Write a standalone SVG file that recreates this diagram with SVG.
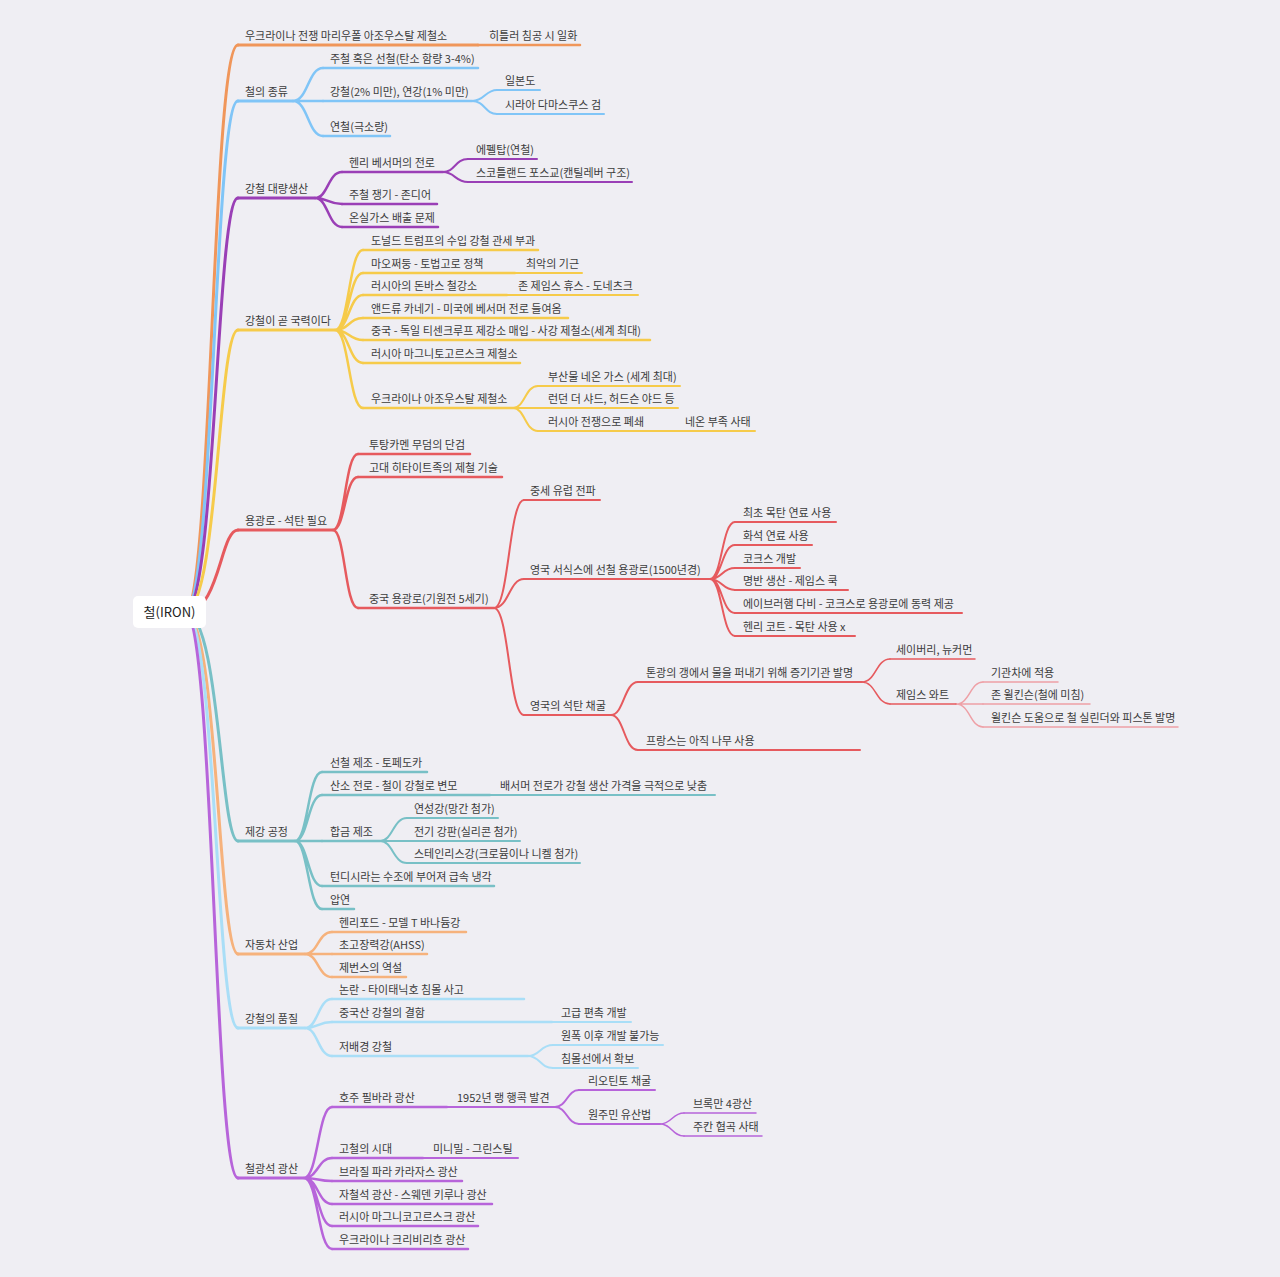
<svg xmlns="http://www.w3.org/2000/svg" width="1280" height="1277" viewBox="0 0 1280 1277">
<style>
text{font-family:"Noto Sans CJK KR","Noto Sans",sans-serif;font-size:11px;fill:#3c3c3c}
path,line{fill:none;stroke-linecap:round}
.o{stroke:#F0965A}.b{stroke:#80C5F7}.p{stroke:#9A3FB6}.y{stroke:#F6CB4A}.r{stroke:#E65A5E}.rl{stroke:#EEA0A6}.t{stroke:#78C0C6}.a{stroke:#F6B27C}.lb{stroke:#A9DEF7}.v{stroke:#B764DA}
.w1{stroke-width:3}.w2{stroke-width:2.5}.w3{stroke-width:2}.w4{stroke-width:1.5}
</style>
<rect width="1280" height="1277" fill="#EFEEF3"/>
<g id="connectors">
<path class="o w1" d="M185 612 C212 612 212 45 238 45"/>
<path class="b w1" d="M185 612 C214 612 214 101 238 101"/>
<path class="p w1" d="M185 612 C216 612 216 198 238 198"/>
<path class="y w1" d="M185 612 C218 612 218 330 238 330"/>
<path class="r w1" d="M185 612 C220 612 220 530 238 530"/>
<path class="t w1" d="M185 612 C220 612 220 841 238 841"/>
<path class="a w1" d="M185 612 C218 612 218 954 238 954"/>
<path class="lb w1" d="M185 612 C216 612 216 1028 238 1028"/>
<path class="v w1" d="M185 612 C214 612 214 1178 238 1178"/>
<path class="b w2" d="M293 101 C308 101 308 68 323 68 M293 101 L323 101 M293 101 C308 101 308 136 323 136"/>
<path class="b w3" d="M472 101 C485 101 485 90 497 90 M472 101 C485 101 485 114 497 114"/>
<path class="p w2" d="M315 198 C328 198 328 172 342 172 M315 198 C328 198 328 204 342 204 M315 198 C328 198 328 227 342 227"/>
<path class="p w3" d="M443 172 C455 172 455 159 468 159 M443 172 C455 172 455 182 468 182"/>
<path class="y w2" d="M335 330 C349 330 349 250 363 250 M335 330 C349 330 349 273 363 273 M335 330 C349 330 349 295 363 295 M335 330 C349 330 349 318 363 318 M335 330 C349 330 349 340 363 340 M335 330 C349 330 349 363 363 363 M335 330 C349 330 349 408 363 408"/>
<path class="y w3" d="M513 408 C525 408 525 386 538 386 M513 408 L538 408 M513 408 C525 408 525 431 538 431"/>
<path class="r w2" d="M333 530 C345 530 345 454 358 454 M333 530 C345 530 345 477 358 477 M333 530 C345 530 345 608 358 608"/>
<path class="r w3" d="M494 608 C509 608 509 500 524 500 M494 608 C509 608 509 579 524 579 M494 608 C509 608 509 715 524 715"/>
<path class="r w3" d="M710 579 C722 579 722 522 735 522 M710 579 C722 579 722 545 735 545 M710 579 C722 579 722 568 735 568 M710 579 C722 579 722 590 735 590 M710 579 C722 579 722 613 735 613 M710 579 C722 579 722 636 735 636"/>
<path class="r w3" d="M611 715 C624 715 624 682 638 682 M611 715 C624 715 624 750 638 750"/>
<path class="r w4" d="M862 682 C876 682 876 659 890 659 M862 682 C876 682 876 704 890 704"/>
<path class="rl w4" d="M956 704 C970 704 970 682 983 682 M956 704 L983 704 M956 704 C970 704 970 727 983 727"/>
<path class="t w2" d="M295 841 C308 841 308 772 322 772 M295 841 C308 841 308 795 322 795 M295 841 L322 841 M295 841 C308 841 308 886 322 886 M295 841 C308 841 308 909 322 909"/>
<path class="t w3" d="M380 841 C393 841 393 818 407 818 M380 841 L407 841 M380 841 C393 841 393 863 407 863"/>
<path class="a w2" d="M305 954 C318 954 318 932 332 932 M305 954 L332 954 M305 954 C318 954 318 977 332 977"/>
<path class="lb w2" d="M305 1028 C318 1028 318 999 332 999 M305 1028 C318 1028 318 1022 332 1022 M305 1028 C318 1028 318 1056 332 1056"/>
<path class="lb w3" d="M528 1056 C540 1056 540 1045 553 1045 M528 1056 C540 1056 540 1068 553 1068"/>
<path class="v w2" d="M304 1178 C318 1178 318 1107 332 1107 M304 1178 C318 1178 318 1158 332 1158 M304 1178 C318 1178 318 1181 332 1181 M304 1178 C318 1178 318 1204 332 1204 M304 1178 C318 1178 318 1226 332 1226 M304 1178 C318 1178 318 1249 332 1249"/>
<path class="v w3" d="M555 1107 C567 1107 567 1090 579 1090 M555 1107 C567 1107 567 1124 579 1124"/>
<path class="v w4" d="M660 1124 C672 1124 672 1113 684 1113 M660 1124 C672 1124 672 1136 684 1136"/>
</g>
<g id="root"><rect x="133" y="596" width="73" height="32" rx="5" fill="#fff"/><text x="169.5" y="617" text-anchor="middle" style="font-size:13px;fill:#222">철(IRON)</text></g>
<g id="n1"><line class="o w1" x1="238" y1="45" x2="478" y2="45"/><text x="245" y="40">우크라이나 전쟁 마리우폴 아조우스탈 제철소</text></g>
<g id="n1a"><line class="o w2" x1="478" y1="45" x2="580" y2="45"/><text x="489" y="40">히틀러 침공 시 일화</text></g>
<g id="n2"><line class="b w1" x1="238" y1="101" x2="293" y2="101"/><text x="245" y="96">철의 종류</text></g>
<g id="n2a"><line class="b w2" x1="323" y1="68" x2="478" y2="68"/><text x="330" y="63">주철 혹은 선철(탄소 함량 3-4%)</text></g>
<g id="n2b"><line class="b w2" x1="323" y1="101" x2="472" y2="101"/><text x="330" y="96">강철(2% 미만), 연강(1% 미만)</text></g>
<g id="n2b1"><line class="b w3" x1="497" y1="90" x2="540" y2="90"/><text x="505" y="85">일본도</text></g>
<g id="n2b2"><line class="b w3" x1="497" y1="114" x2="604" y2="114"/><text x="505" y="109">시라아 다마스쿠스 검</text></g>
<g id="n2c"><line class="b w2" x1="323" y1="136" x2="390" y2="136"/><text x="330" y="131">연철(극소량)</text></g>
<g id="n3"><line class="p w1" x1="238" y1="198" x2="315" y2="198"/><text x="245" y="193">강철 대량생산</text></g>
<g id="n3a"><line class="p w2" x1="342" y1="172" x2="443" y2="172"/><text x="349" y="167">헨리 베서머의 전로</text></g>
<g id="n3a1"><line class="p w3" x1="468" y1="159" x2="537" y2="159"/><text x="476" y="154">에펠탑(연철)</text></g>
<g id="n3a2"><line class="p w3" x1="468" y1="182" x2="632" y2="182"/><text x="476" y="177">스코틀랜드 포스교(캔틸레버 구조)</text></g>
<g id="n3b"><line class="p w2" x1="342" y1="204" x2="437" y2="204"/><text x="349" y="199">주철 쟁기 - 존디어</text></g>
<g id="n3c"><line class="p w2" x1="342" y1="227" x2="438" y2="227"/><text x="349" y="222">온실가스 배출 문제</text></g>
<g id="n4"><line class="y w1" x1="238" y1="330" x2="335" y2="330"/><text x="245" y="325">강철이 곧 국력이다</text></g>
<g id="n4a"><line class="y w2" x1="363" y1="250" x2="538" y2="250"/><text x="371" y="245">도널드 트럼프의 수입 강철 관세 부과</text></g>
<g id="n4b"><line class="y w2" x1="363" y1="273" x2="515" y2="273"/><text x="371" y="268">마오쩌둥 - 토법고로 정책</text></g>
<g id="n4b1"><line class="y w3" x1="515" y1="273" x2="582" y2="273"/><text x="526" y="268">최악의 기근</text></g>
<g id="n4c"><line class="y w2" x1="363" y1="295" x2="507" y2="295"/><text x="371" y="290">러시아의 돈바스 철강소</text></g>
<g id="n4c1"><line class="y w3" x1="507" y1="295" x2="638" y2="295"/><text x="518" y="290">존 제임스 휴스 - 도네츠크</text></g>
<g id="n4d"><line class="y w2" x1="363" y1="318" x2="568" y2="318"/><text x="371" y="313">앤드류 카네기 - 미국에 베서머 전로 들여옴</text></g>
<g id="n4e"><line class="y w2" x1="363" y1="340" x2="650" y2="340"/><text x="371" y="335">중국 - 독일 티센크루프 제강소 매입 - 사강 제철소(세계 최대)</text></g>
<g id="n4f"><line class="y w2" x1="363" y1="363" x2="520" y2="363"/><text x="371" y="358">러시아 마그니토고르스크 제철소</text></g>
<g id="n4g"><line class="y w2" x1="363" y1="408" x2="513" y2="408"/><text x="371" y="403">우크라이나 아조우스탈 제철소</text></g>
<g id="n4g1"><line class="y w3" x1="538" y1="386" x2="680" y2="386"/><text x="548" y="381">부산물 네온 가스 (세계 최대)</text></g>
<g id="n4g2"><line class="y w3" x1="538" y1="408" x2="678" y2="408"/><text x="548" y="403">런던 더 샤드, 허드슨 야드 등</text></g>
<g id="n4g3"><line class="y w3" x1="538" y1="431" x2="675" y2="431"/><text x="548" y="426">러시아 전쟁으로 폐쇄</text></g>
<g id="n4g3a"><line class="y w3" x1="675" y1="431" x2="755" y2="431"/><text x="685" y="426">네온 부족 사태</text></g>
<g id="n5"><line class="r w1" x1="238" y1="530" x2="333" y2="530"/><text x="245" y="525">용광로 - 석탄 필요</text></g>
<g id="n5a"><line class="r w2" x1="358" y1="454" x2="470" y2="454"/><text x="369" y="449">투탕카멘 무덤의 단검</text></g>
<g id="n5b"><line class="r w2" x1="358" y1="477" x2="502" y2="477"/><text x="369" y="472">고대 히타이트족의 제철 기술</text></g>
<g id="n5c"><line class="r w2" x1="358" y1="608" x2="494" y2="608"/><text x="369" y="603">중국 용광로(기원전 5세기)</text></g>
<g id="n5c1"><line class="r w3" x1="524" y1="500" x2="600" y2="500"/><text x="530" y="495">중세 유럽 전파</text></g>
<g id="n5c2"><line class="r w3" x1="524" y1="579" x2="710" y2="579"/><text x="530" y="574">영국 서식스에 선철 용광로(1500년경)</text></g>
<g id="n5c2a"><line class="r w3" x1="735" y1="522" x2="836" y2="522"/><text x="743" y="517">최초 목탄 연료 사용</text></g>
<g id="n5c2b"><line class="r w3" x1="735" y1="545" x2="812" y2="545"/><text x="743" y="540">화석 연료 사용</text></g>
<g id="n5c2c"><line class="r w3" x1="735" y1="568" x2="800" y2="568"/><text x="743" y="563">코크스 개발</text></g>
<g id="n5c2d"><line class="r w3" x1="735" y1="590" x2="848" y2="590"/><text x="743" y="585">명반 생산 - 제임스 쿡</text></g>
<g id="n5c2e"><line class="r w3" x1="735" y1="613" x2="962" y2="613"/><text x="743" y="608">에이브러햄 다비 - 코크스로 용광로에 동력 제공</text></g>
<g id="n5c2f"><line class="r w3" x1="735" y1="636" x2="855" y2="636"/><text x="743" y="631">헨리 코트 - 목탄 사용 x</text></g>
<g id="n5c3"><line class="r w3" x1="524" y1="715" x2="611" y2="715"/><text x="530" y="710">영국의 석탄 채굴</text></g>
<g id="n5c3a"><line class="r w3" x1="638" y1="682" x2="862" y2="682"/><text x="646" y="677">톤광의 갱에서 물을 퍼내기 위해 증기기관 발명</text></g>
<g id="n5c3a1"><line class="r w4" x1="890" y1="659" x2="975" y2="659"/><text x="896" y="654">세이버리, 뉴커먼</text></g>
<g id="n5c3a2"><line class="r w4" x1="890" y1="704" x2="956" y2="704"/><text x="896" y="699">제임스 와트</text></g>
<g id="n5c3a2a"><line class="rl w4" x1="983" y1="682" x2="1058" y2="682"/><text x="991" y="677">기관차에 적용</text></g>
<g id="n5c3a2b"><line class="rl w4" x1="983" y1="704" x2="1090" y2="704"/><text x="991" y="699">존 윌킨슨(철에 미침)</text></g>
<g id="n5c3a2c"><line class="rl w4" x1="983" y1="727" x2="1178" y2="727"/><text x="991" y="722">윌킨슨 도움으로 철 실린더와 피스톤 발명</text></g>
<g id="n5c3b"><line class="r w3" x1="638" y1="750" x2="860" y2="750"/><text x="646" y="745">프랑스는 아직 나무 사용</text></g>
<g id="n6"><line class="t w1" x1="238" y1="841" x2="295" y2="841"/><text x="245" y="836">제강 공정</text></g>
<g id="n6a"><line class="t w2" x1="322" y1="772" x2="427" y2="772"/><text x="330" y="767">선철 제조 - 토페도카</text></g>
<g id="n6b"><line class="t w2" x1="322" y1="795" x2="490" y2="795"/><text x="330" y="790">산소 전로 - 철이 강철로 변모</text></g>
<g id="n6b1"><line class="t w3" x1="490" y1="795" x2="715" y2="795"/><text x="500" y="790">배서머 전로가 강철 생산 가격을 극적으로 낮춤</text></g>
<g id="n6c"><line class="t w2" x1="322" y1="841" x2="380" y2="841"/><text x="330" y="836">합금 제조</text></g>
<g id="n6c1"><line class="t w3" x1="407" y1="818" x2="498" y2="818"/><text x="414" y="813">연성강(망간 첨가)</text></g>
<g id="n6c2"><line class="t w3" x1="407" y1="841" x2="520" y2="841"/><text x="414" y="836">전기 강판(실리콘 첨가)</text></g>
<g id="n6c3"><line class="t w3" x1="407" y1="863" x2="580" y2="863"/><text x="414" y="858">스테인리스강(크로뮴이나 니켈 첨가)</text></g>
<g id="n6d"><line class="t w2" x1="322" y1="886" x2="494" y2="886"/><text x="330" y="881">턴디시라는 수조에 부어져 급속 냉각</text></g>
<g id="n6e"><line class="t w2" x1="322" y1="909" x2="354" y2="909"/><text x="330" y="904">압연</text></g>
<g id="n7"><line class="a w1" x1="238" y1="954" x2="305" y2="954"/><text x="245" y="949">자동차 산업</text></g>
<g id="n7a"><line class="a w2" x1="332" y1="932" x2="466" y2="932"/><text x="339" y="927">헨리포드 - 모델 T 바나듐강</text></g>
<g id="n7b"><line class="a w2" x1="332" y1="954" x2="427" y2="954"/><text x="339" y="949">초고장력강(AHSS)</text></g>
<g id="n7c"><line class="a w2" x1="332" y1="977" x2="406" y2="977"/><text x="339" y="972">제번스의 역설</text></g>
<g id="n8"><line class="lb w1" x1="238" y1="1028" x2="305" y2="1028"/><text x="245" y="1023">강철의 품질</text></g>
<g id="n8a"><line class="lb w2" x1="332" y1="999" x2="524" y2="999"/><text x="339" y="994">논란 - 타이태닉호 침몰 사고</text></g>
<g id="n8b"><line class="lb w2" x1="332" y1="1022" x2="552" y2="1022"/><text x="339" y="1017">중국산 강철의 결함</text></g>
<g id="n8b1"><line class="lb w3" x1="552" y1="1022" x2="631" y2="1022"/><text x="561" y="1017">고급 편촉 개발</text></g>
<g id="n8c"><line class="lb w2" x1="332" y1="1056" x2="528" y2="1056"/><text x="339" y="1051">저배경 강철</text></g>
<g id="n8c1"><line class="lb w3" x1="553" y1="1045" x2="663" y2="1045"/><text x="561" y="1040">원폭 이후 개발 불가능</text></g>
<g id="n8c2"><line class="lb w3" x1="553" y1="1068" x2="638" y2="1068"/><text x="561" y="1063">침몰선에서 확보</text></g>
<g id="n9"><line class="v w1" x1="238" y1="1178" x2="304" y2="1178"/><text x="245" y="1173">철광석 광산</text></g>
<g id="n9a"><line class="v w2" x1="332" y1="1107" x2="447" y2="1107"/><text x="339" y="1102">호주 필바라 광산</text></g>
<g id="n9a1"><line class="v w3" x1="447" y1="1107" x2="555" y2="1107"/><text x="457" y="1102">1952년 랭 행콕 발견</text></g>
<g id="n9a1a"><line class="v w3" x1="579" y1="1090" x2="655" y2="1090"/><text x="588" y="1085">리오틴토 채굴</text></g>
<g id="n9a1b"><line class="v w3" x1="579" y1="1124" x2="660" y2="1124"/><text x="588" y="1119">원주민 유산법</text></g>
<g id="n9a1b1"><line class="v w4" x1="684" y1="1113" x2="756" y2="1113"/><text x="693" y="1108">브록만 4광산</text></g>
<g id="n9a1b2"><line class="v w4" x1="684" y1="1136" x2="762" y2="1136"/><text x="693" y="1131">주칸 협곡 사태</text></g>
<g id="n9b"><line class="v w2" x1="332" y1="1158" x2="423" y2="1158"/><text x="339" y="1153">고철의 시대</text></g>
<g id="n9b1"><line class="v w3" x1="423" y1="1158" x2="518" y2="1158"/><text x="433" y="1153">미니밀 - 그린스틸</text></g>
<g id="n9c"><line class="v w2" x1="332" y1="1181" x2="462" y2="1181"/><text x="339" y="1176">브라질 파라 카라자스 광산</text></g>
<g id="n9d"><line class="v w2" x1="332" y1="1204" x2="492" y2="1204"/><text x="339" y="1199">자철석 광산 - 스웨덴 키루나 광산</text></g>
<g id="n9e"><line class="v w2" x1="332" y1="1226" x2="478" y2="1226"/><text x="339" y="1221">러시아 마그니코고르스크 광산</text></g>
<g id="n9f"><line class="v w2" x1="332" y1="1249" x2="468" y2="1249"/><text x="339" y="1244">우크라이나 크리비리흐 광산</text></g>
</svg>
